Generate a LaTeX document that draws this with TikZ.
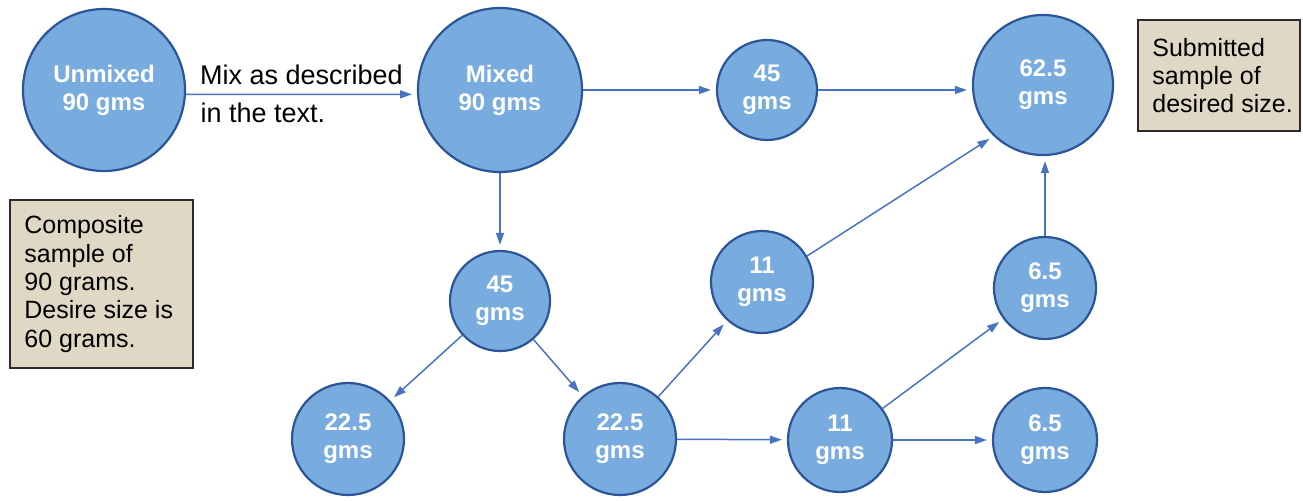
\documentclass[tikz,border=0pt]{standalone}
\usepackage{fontspec}
\setmainfont{Liberation Sans}
\usetikzlibrary{arrows.meta,positioning}
\definecolor{diskfill}{HTML}{78ACDE}
\definecolor{diskline}{HTML}{2C5597}
\definecolor{arrowc}{HTML}{4A72C2}
\definecolor{boxfill}{HTML}{DED8C5}
\definecolor{boxline}{HTML}{2B2B2B}
\tikzset{
  disk/.style={circle, draw=diskline, fill=diskfill, line width=1.1pt, inner sep=0pt,
    text=white, font=\bfseries\fontsize{12}{14}\selectfont, align=center},
  notebox/.style={rectangle, draw=boxline, fill=boxfill, line width=1.1pt, inner sep=0pt,
    anchor=north west, font=\fontsize{12.5}{14.15}\selectfont},
  arr/.style={draw=arrowc, line width=0.75pt, -{Triangle[length=6pt,width=4pt]}, shorten >=2.5pt},
  lbl/.style={font=\fontsize{13.5}{15}\selectfont, inner sep=0pt}
}
\begin{document}
\begin{tikzpicture}[x=0.5pt,y=-0.5pt]
\useasboundingbox (0,0) rectangle (1303,500);
% circles
\node[disk, minimum size=81pt] (unmixed) at (104,90) {Unmixed\\90 gms};
\node[disk, minimum size=82pt] (mixed) at (500,90) {Mixed\\90 gms};
\node[disk, minimum size=50pt] (top45) at (767,90) {45\\gms};
\node[disk, minimum size=70pt] (n625) at (1043,85) {62.5\\gms};
\node[disk, minimum size=50pt] (mid45) at (500,301) {45\\gms};
\node[disk, minimum size=51pt] (u11) at (762,282) {11\\gms};
\node[disk, minimum size=51pt] (u65) at (1045,288) {6.5\\gms};
\node[disk, minimum size=56pt] (l225) at (348,439) {22.5\\gms};
\node[disk, minimum size=56pt] (m225) at (620,439) {22.5\\gms};
\node[disk, minimum size=52pt] (l11) at (840,440) {11\\gms};
\node[disk, minimum size=52pt] (l65) at (1045,440) {6.5\\gms};
% notes
\node[notebox, minimum width=91.5pt, minimum height=84pt] (comp) at (9,199) {};
\node[anchor=west, align=left, inner sep=0pt, font=\fontsize{12.5}{14.15}\selectfont] (comptext) at ([xshift=7.5pt]comp.west)
  {Composite\\sample of\\90 grams.\\Desire size is\\60 grams.};
\node[notebox, minimum width=81pt, minimum height=55.5pt] (subm) at (1137,19) {};
\node[anchor=west, align=left, inner sep=0pt, font=\fontsize{12.5}{14.15}\selectfont] (submtext) at ([xshift=7.5pt]subm.west)
  {Submitted\\sample of\\desired size.};
% connectors
\draw[arr] (unmixed.-3.5) -- node[lbl, pos=0.5, above=4.5pt] {Mix as described}
  node[lbl, pos=0.06, below=4pt, anchor=north west] {in the text.} (mixed.183.5);
\draw[arr] (mixed) -- (top45);
\draw[arr] (top45.east) -- (top45.east -| n625.west);
\draw[arr] (mixed) -- (mid45);
\draw[arr] (mid45) -- (l225);
\draw[arr] (mid45) -- (m225);
\draw[arr] (m225) -- (u11);
\draw[arr] (m225) -- (l11);
\draw[arr] (u11.30) -- (n625.226);
\draw[arr] (l11) -- (u65);
\draw[arr] (l11) -- (l65);
\draw[arr] (u65) -- (u65 |- n625.south);
\end{tikzpicture}
\end{document}
